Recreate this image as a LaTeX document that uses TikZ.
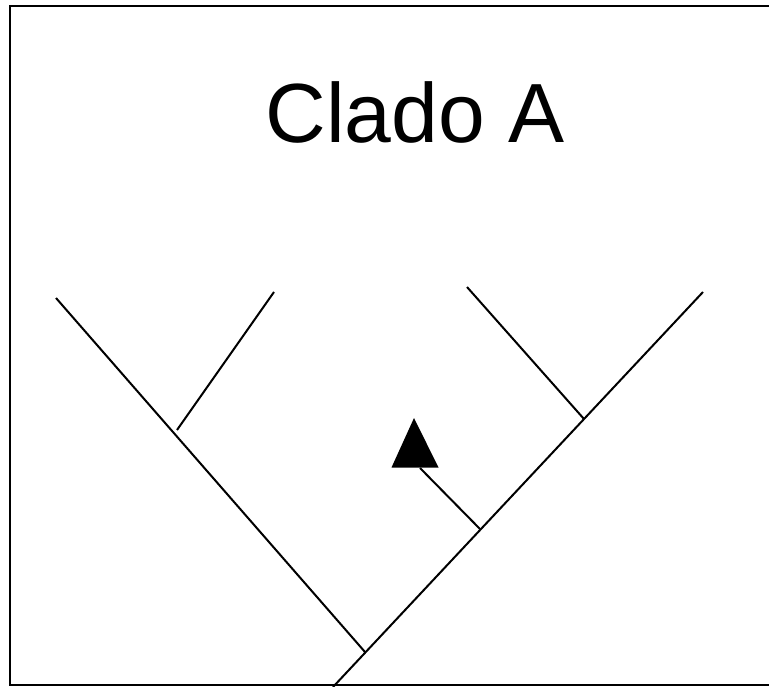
\documentclass[tikz,border=0pt]{standalone}
\usepackage{fontspec}
\setmainfont{Liberation Sans}
\begin{document}
\begin{tikzpicture}[x=1pt,y=-1pt,
  branch/.style={line width=2pt,line cap=butt},
  frame/.style={line width=2.2pt},
  marker/.style={fill=black,draw=none}]
\useasboundingbox (0,0) rectangle (769,687);
\clip (0,0) rectangle (769,687);
% outer frame (open on the right)
\draw[frame] (775,6) -- (10,6) -- (10,685) -- (775,685);
% title
\node[anchor=base,inner sep=0pt,font=\fontsize{84}{96}\selectfont] (title) at (415,143) {Clado A};
% tree points
\coordinate (root) at (333,687);
\coordinate (n1) at (365,652);
\coordinate (tipA) at (56,298);
\coordinate (n2) at (177,430);
\coordinate (tipB) at (274,292);
\coordinate (tipD) at (703,292);
\coordinate (n3) at (480,529);
\coordinate (n4) at (584,419);
\coordinate (tipC) at (467,287);
\coordinate (mark) at (420,468);
% branches
\draw[branch] (root) -- (tipD);
\draw[branch] (n1) -- (tipA);
\draw[branch] (n2) -- (tipB);
\draw[branch] (n4) -- (tipC);
\draw[branch] (n3) -- (mark);
% character-state marker
\fill[marker] (414,418) -- (438.5,467.5) -- (391.5,467.5) -- cycle;
\end{tikzpicture}
\end{document}
